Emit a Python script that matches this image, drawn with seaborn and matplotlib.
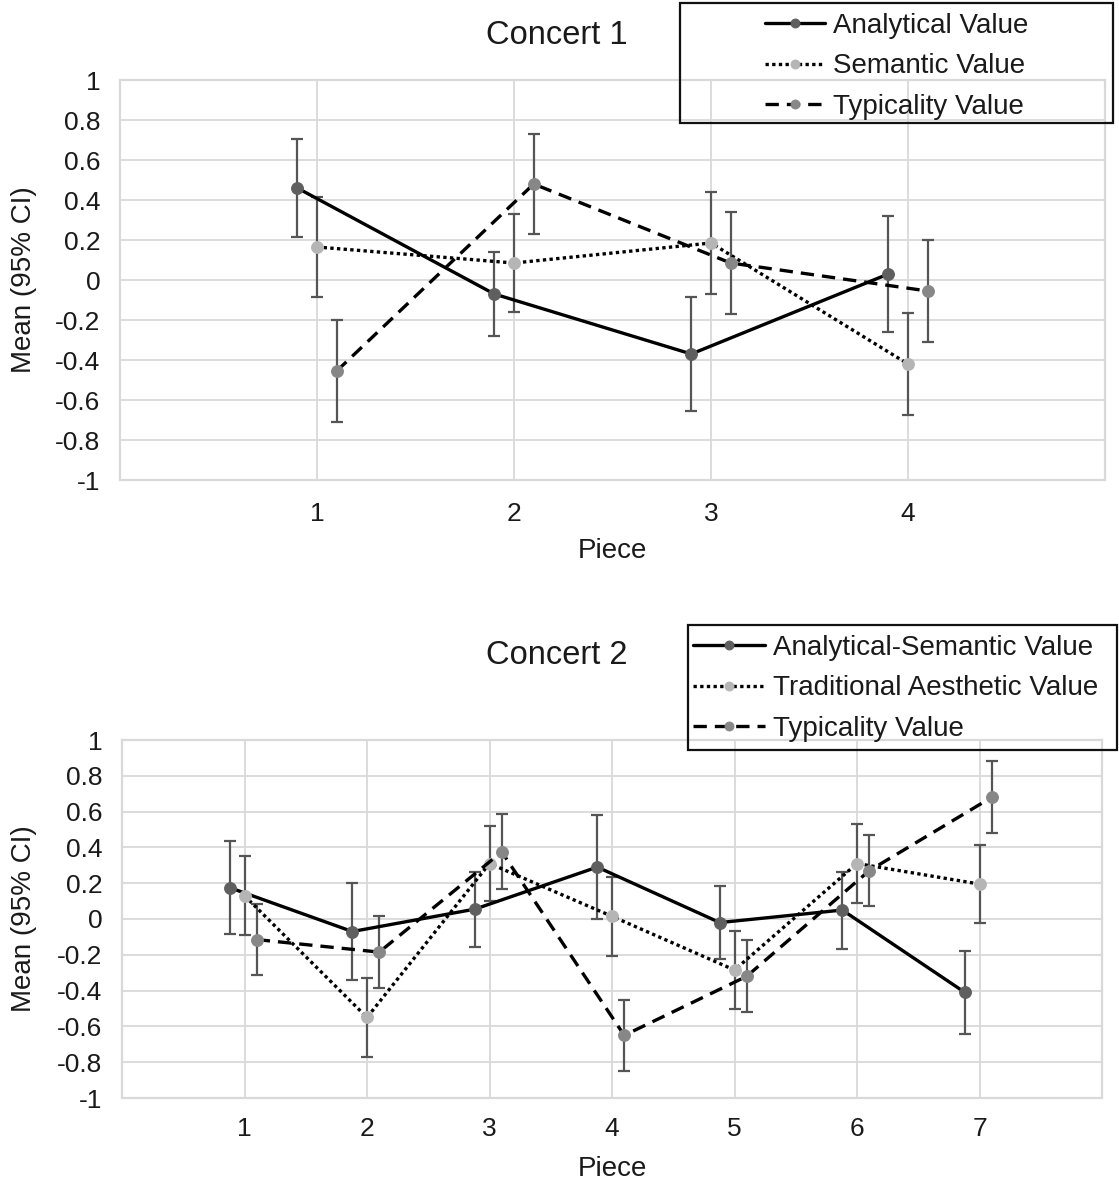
import numpy as np
import pandas as pd
import matplotlib
matplotlib.use("Agg")
import matplotlib.pyplot as plt
from matplotlib.patches import Rectangle
import seaborn as sns

# ---------------- data ----------------
pieces1 = [1, 2, 3, 4]
analytical1 = [0.46, -0.07, -0.37, 0.03]
analytical1_ci = [0.245, 0.21, 0.285, 0.29]
semantic1 = [0.165, 0.085, 0.185, -0.42]
semantic1_ci = [0.25, 0.245, 0.255, 0.255]
typicality1 = [-0.455, 0.48, 0.085, -0.055]
typicality1_ci = [0.255, 0.25, 0.255, 0.255]
labels1 = ["Analytical Value", "Semantic Value", "Typicality Value"]

pieces2 = [1, 2, 3, 4, 5, 6, 7]
analytical2 = [0.175, -0.07, 0.055, 0.29, -0.02, 0.05, -0.41]
analytical2_ci = [0.26, 0.27, 0.21, 0.29, 0.205, 0.215, 0.23]
traditional2 = [0.13, -0.55, 0.31, 0.015, -0.285, 0.31, 0.195]
traditional2_ci = [0.22, 0.22, 0.21, 0.22, 0.22, 0.22, 0.22]
typicality2 = [-0.115, -0.185, 0.375, -0.65, -0.32, 0.27, 0.68]
typicality2_ci = [0.2, 0.2, 0.21, 0.2, 0.2, 0.2, 0.2]
labels2 = ["Analytical-Semantic Value", "Traditional Aesthetic Value", "Typicality Value"]

yticks = [1, 0.8, 0.6, 0.4, 0.2, 0, -0.2, -0.4, -0.6, -0.8, -1]
ytick_labels = ["1", "0.8", "0.6", "0.4", "0.2", "0", "-0.2", "-0.4", "-0.6", "-0.8", "-1"]

# ---------------- style ----------------
sns.set_theme(style="white")
plt.rcParams["font.family"] = ["Liberation Sans", "DejaVu Sans"]
plt.rcParams["axes.unicode_minus"] = False

W, H = 1119, 1186
fig = plt.figure(figsize=(W / 100, H / 100), dpi=100)

GRID = "#d9d9d9"
ERR = "#555555"
TXT = "#1a1a1a"
styles = [
    dict(linestyle="-", mfc="#5f5f5f"),
    dict(linestyle=(0, (1, 1)), mfc="#b5b5b5"),
    dict(linestyle=(0, (4, 2.4)), mfc="#878787"),
]


def fax(l, t, r, b):
    return fig.add_axes([l / W, 1 - b / H, (r - l) / W, (b - t) / H])


def draw(ax, pieces, series, cis, labels, offsets, xmax):
    for vals, ci, lab, off, st in zip(series, cis, labels, offsets, styles):
        xs = np.array(pieces, dtype=float) + off
        df = pd.DataFrame({"x": xs, "y": vals})
        ax.errorbar(xs, vals, yerr=ci, fmt="none", ecolor=ERR, elinewidth=1.6,
                    capsize=4, capthick=1.6, zorder=2)
        sns.lineplot(data=df, x="x", y="y", ax=ax, color="black", linewidth=2.4,
                     linestyle=st["linestyle"], marker="o", markersize=8.5,
                     markerfacecolor=st["mfc"], markeredgecolor=st["mfc"],
                     label=lab, sort=False, errorbar=None, zorder=3)
    ax.set_xlim(0, xmax)
    ax.set_ylim(-1, 1)
    ax.set_xticks(pieces)
    ax.set_xticklabels([str(p) for p in pieces])
    ax.set_yticks(yticks)
    ax.set_yticklabels(ytick_labels)
    ax.set_xticks(range(0, xmax + 1), minor=True)
    ax.grid(True, which="both", color=GRID, linewidth=1.3)
    ax.set_axisbelow(True)
    for s in ax.spines.values():
        s.set_color(GRID)
        s.set_linewidth(1.6)
    ax.tick_params(axis="both", which="both", length=0, labelsize=19, colors=TXT)
    ax.set_xlabel("Piece", fontsize=20, color=TXT)
    ax.set_ylabel("Mean (95% CI)", fontsize=20, color=TXT)


# ---- Concert 1 ----
ax1 = fax(120, 80, 1105, 480)
draw(ax1, pieces1, [analytical1, semantic1, typicality1],
     [analytical1_ci, semantic1_ci, typicality1_ci], labels1, [-0.1, 0.0, 0.1], 5)
ax1.tick_params(axis="y", pad=14)
ax1.tick_params(axis="x", pad=16)
ax1.xaxis.set_label_coords(0.5, -0.145)
ax1.yaxis.set_label_coords((37 - 120) / 985, 0.5)
ax1.set_title("Concert 1", fontsize=23.5, x=(557 - 120) / 985, y=1 + (80 - 44) / 400, pad=0,
              color=TXT)

# ---- Concert 2 ----
ax2 = fax(122, 740, 1102, 1098)
draw(ax2, pieces2, [analytical2, traditional2, typicality2],
     [analytical2_ci, traditional2_ci, typicality2_ci], labels2, [-0.12, 0.0, 0.1], 8)
ax2.tick_params(axis="y", pad=14)
ax2.tick_params(axis="x", pad=14)
ax2.xaxis.set_label_coords(0.5, -0.163)
ax2.yaxis.set_label_coords((37 - 122) / 980, 0.5)
ax2.set_title("Concert 2", fontsize=23.5, x=(557 - 122) / 980, y=1 + (740 - 664) / 358, pad=0,
              color=TXT)

# ---- legends ----
LFS = 20
for ax, (bl, bt, br, bb), hx, hl in [(ax1, (680, 3, 1113, 123), 765, 2.16),
                                     (ax2, (688, 625, 1117, 750), 693, 2.6)]:
    leg = ax.legend(loc="upper left", bbox_to_anchor=(hx / W, 1 - (bt + 10) / H),
                    bbox_transform=fig.transFigure, frameon=False, fontsize=LFS,
                    borderpad=0, borderaxespad=0, handlelength=hl, handletextpad=0.29,
                    labelspacing=0.52, markerscale=0.75, numpoints=1)
    for t in leg.get_texts():
        t.set_color(TXT)
    fig.add_artist(Rectangle((bl / W, 1 - bb / H), (br - bl) / W, (bb - bt) / H,
                             transform=fig.transFigure, fill=False,
                             edgecolor="#111111", linewidth=1.6, zorder=10))

fig.savefig("out.png", dpi=100, facecolor="white")
